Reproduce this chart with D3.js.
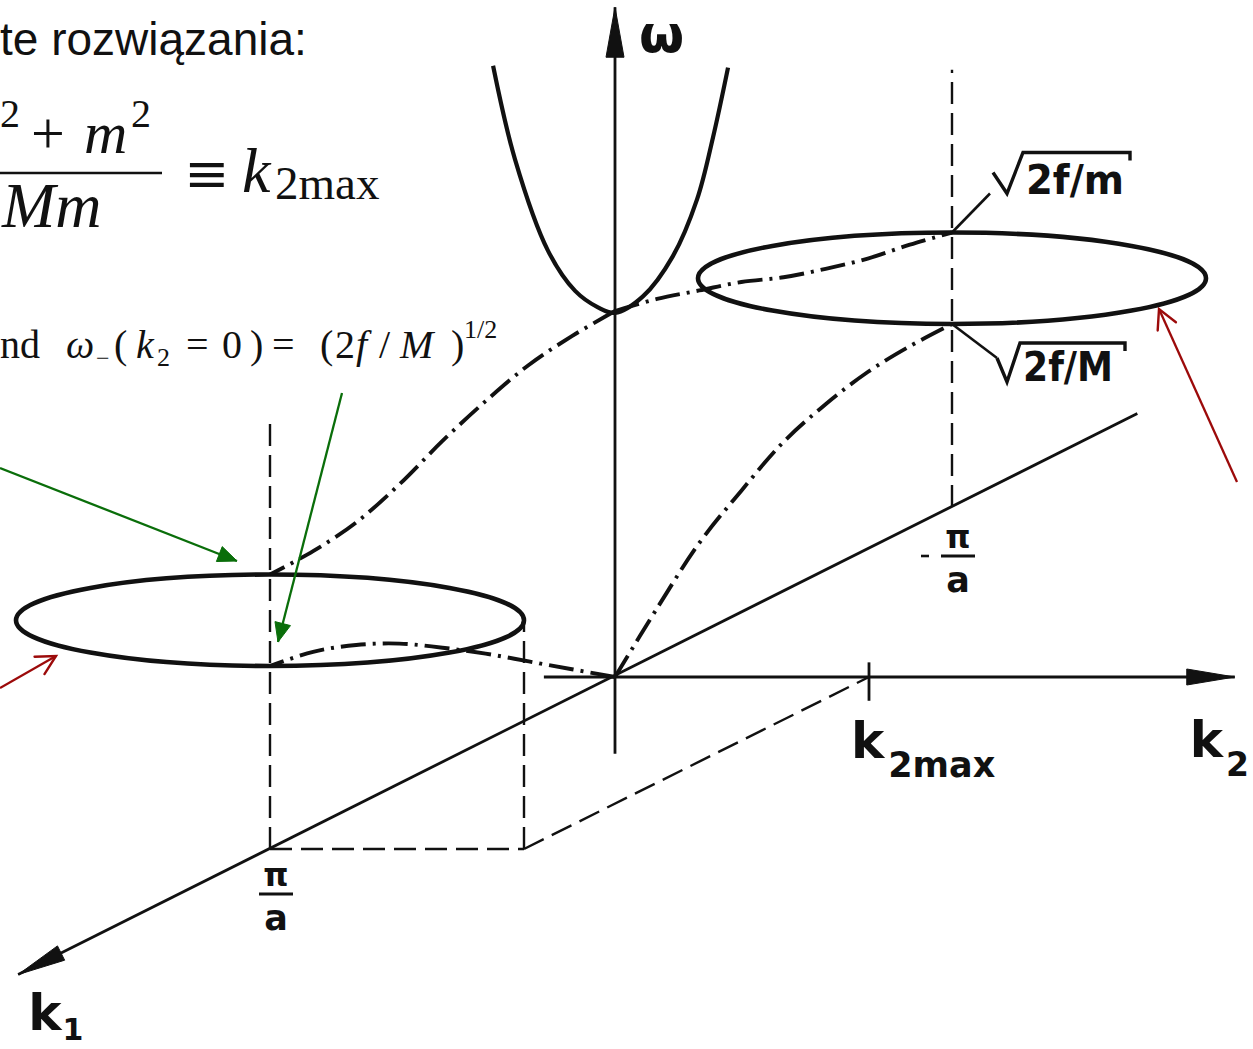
<!DOCTYPE html>
<html>
<head>
<meta charset="utf-8">
<script src="https://cdn.jsdelivr.net/npm/d3@7"></script>
<style>
  html, body { margin: 0; padding: 0; background: #fff; overflow: hidden; }
  svg { display: block; }
</style>
</head>
<body>
<svg id="fig" width="1253" height="1049"></svg>
<script>
// ---------------- data ----------------
// Wave vectors: k1 in units of pi/a, k2 in units of k2max; frequency in units of sqrt(2f/M).
const k1Grid        = [0, 0.125, 0.25, 0.375, 0.5, 0.625, 0.75, 0.875, 1];
// branches along k1 (k2 = 0), k1 >= 0
const opticalPos    = [2.00, 1.98, 1.94, 1.86, 1.76, 1.64, 1.55, 1.51, 1.50];
const acousticPos   = [0.00, 0.16, 0.32, 0.48, 0.63, 0.77, 0.88, 0.96, 1.00];
// branches along k1 (k2 = 0), k1 <= 0 (same |k1| grid)
const opticalNeg    = [2.00, 1.95, 1.88, 1.81, 1.72, 1.65, 1.59, 1.55, 1.50];
const acousticNeg   = [0.00, 0.26, 0.50, 0.67, 0.82, 0.91, 0.97, 0.995, 1.00];
// optical branch along k2 at k1 = 0
const parabolaK2    = [-0.48, -0.394, -0.264, -0.157, -0.067, 0, 0.11, 0.228, 0.323, 0.386, 0.445];
const parabolaW     = [3.34, 2.83, 2.33, 2.11, 2.02, 1.99, 2.08, 2.30, 2.61, 2.95, 3.33];
// zone-boundary frequencies and extents
const omegaM        = 1.0;   // sqrt(2f/M)
const omegaSmallM   = 1.5;   // sqrt(2f/m)
const k2Max         = 1.0;
const zoneEdges     = [1, -1];          // k1 = +pi/a, -pi/a
const guideTops     = [2.36, 2.39];     // top of the vertical guides at +pi/a, -pi/a
// axis extents
const k2AxisRange   = [-0.28, 2.44];
const wAxisRange    = [-0.42, 3.66];
const k1AxisRange   = [-1.55, 1.73];
// labels
const axisLabels    = { w: "ω", k1: ["k", "1"], k2: ["k", "2"], k2max: ["k", "2max"] };
const edgeLabels    = { pos: "π/a", neg: "−π/a" };
const freqLabels    = { top: "2f/m", bottom: "2f/M" };
const headline      = "te rozwiązania:";

// ---------------- projection ----------------
const svg = d3.select("#fig");
const origin = { x: 615, y: 677 };
const k2Px = d3.scaleLinear().domain([0, 1]).range([0, 254]);
const k1Px = d3.scaleLinear().domain([-1, 0, 1]).range([337, 0, -345]);
const k1Py = d3.scaleLinear().domain([-1, 0, 1]).range([-170, 0, 172]);
const wPy  = d3.scaleLinear().domain([0, 1]).range([0, -183]);
const proj = (k1, k2, w) => [origin.x + k1Px(k1) + k2Px(k2), origin.y + k1Py(k1) + wPy(w)];

const line3 = (curve) => d3.line()
  .x(d => proj(d[0], d[1], d[2])[0])
  .y(d => proj(d[0], d[1], d[2])[1])
  .curve(curve || d3.curveLinear);

const INK = "#111";
const DASH = "22 9";
const DASHDOT = "25 7 3 7";

const fig = svg.append("g").attr("class", "figure");

// arrowhead helper: filled triangle or open chevron at `tip`
function arrowHead(g, from, tip, len, hw, color, filled) {
  const dx = tip[0] - from[0], dy = tip[1] - from[1];
  const L = Math.hypot(dx, dy), ux = dx / L, uy = dy / L;
  const bx = tip[0] - ux * len, by = tip[1] - uy * len;
  const p1 = [bx - uy * hw, by + ux * hw], p2 = [bx + uy * hw, by - ux * hw];
  if (filled) {
    g.append("path").attr("d", `M${tip}L${p1}L${p2}Z`).attr("fill", color).attr("stroke", color).attr("stroke-width", 1);
  } else {
    g.append("path").attr("d", `M${p1}L${tip}L${p2}`).attr("fill", "none")
      .attr("stroke", color).attr("stroke-width", 2.4).attr("stroke-linecap", "round");
  }
}

// ---------------- guide lines (dashed) ----------------
const guides = [
  [[1, 0, 0], [1, 0, guideTops[0]]],
  [[-1, 0, 0], [-1, 0, guideTops[1]]],
  [[1, k2Max, 0], [1, k2Max, (omegaM + omegaSmallM) / 2]],
  [[1, 0, 0], [1, k2Max, 0]],
  [[1, k2Max, 0], [0, k2Max, 0]]
];
fig.selectAll("path.guide").data(guides).join("path")
  .attr("class", "guide")
  .attr("d", d => line3()(d))
  .attr("fill", "none").attr("stroke", INK).attr("stroke-width", 2.4)
  .attr("stroke-dasharray", DASH);

// ---------------- axes ----------------
const axes = [
  { name: "k2", a: [0, k2AxisRange[0], 0], b: [0, k2AxisRange[1], 0], len: 48, hw: 8 },
  { name: "w",  a: [0, 0, wAxisRange[0]],  b: [0, 0, wAxisRange[1]],  len: 50, hw: 9 },
  { name: "k1", a: [k1AxisRange[0], 0, 0], b: [k1AxisRange[1], 0, 0], len: 48, hw: 8 }
];
axes.forEach(ax => {
  const A = proj(...ax.a), B = proj(...ax.b);
  fig.append("line").attr("x1", A[0]).attr("y1", A[1]).attr("x2", B[0]).attr("y2", B[1])
    .attr("stroke", INK).attr("stroke-width", 2.8);
  arrowHead(fig, A, B, ax.len, ax.hw, INK, true);
});
// tick at k2max
{
  const t0 = proj(0, k2Max, 0.08), t1 = proj(0, k2Max, -0.13);
  fig.append("line").attr("x1", t0[0]).attr("y1", t0[1]).attr("x2", t1[0]).attr("y2", t1[1])
    .attr("stroke", INK).attr("stroke-width", 2.8);
}

// ---------------- zone-boundary ellipses ----------------
zoneEdges.forEach(k1 => {
  const c = proj(k1, 0, (omegaM + omegaSmallM) / 2);
  fig.append("ellipse")
    .attr("cx", c[0]).attr("cy", c[1])
    .attr("rx", k2Px(k2Max))
    .attr("ry", Math.abs(wPy(omegaSmallM) - wPy(omegaM)) / 2)
    .attr("fill", "none").attr("stroke", INK).attr("stroke-width", 4.6);
});

// ---------------- parabola (optical branch along k2) ----------------
fig.append("path")
  .attr("d", line3(d3.curveCatmullRom)(parabolaK2.map((k, i) => [0, k, parabolaW[i]])))
  .attr("fill", "none").attr("stroke", INK).attr("stroke-width", 4.2);

// ---------------- dash-dot branches along k1 ----------------
const branches = [
  k1Grid.map((k, i) => [k, 0, opticalPos[i]]),
  k1Grid.map((k, i) => [k, 0, acousticPos[i]]),
  k1Grid.map((k, i) => [-k, 0, opticalNeg[i]]),
  k1Grid.map((k, i) => [-k, 0, acousticNeg[i]])
];
fig.selectAll("path.branch").data(branches).join("path")
  .attr("class", "branch")
  .attr("d", d => line3(d3.curveCatmullRom)(d))
  .attr("fill", "none").attr("stroke", INK).attr("stroke-width", 3.9)
  .attr("stroke-dasharray", DASHDOT);

// ---------------- figure labels ----------------
const labFont = "'DejaVu Sans', sans-serif";
const lab = fig.append("g").attr("font-family", labFont).attr("font-weight", "bold").attr("fill", INK);

// omega
{
  const tip = proj(0, 0, wAxisRange[1]);
  lab.append("text").attr("x", tip[0] + 24).attr("y", tip[1] + 45).attr("font-size", 52).text(axisLabels.w);
}
// k2max
{
  const p = proj(0, k2Max, 0);
  const t = lab.append("text").attr("x", p[0] - 18).attr("y", p[1] + 81).attr("font-size", 50);
  t.append("tspan").text(axisLabels.k2max[0]);
  t.append("tspan").attr("font-size", 35).attr("dx", 4).attr("dy", 19).text(axisLabels.k2max[1]);
}
// k2
{
  const p = proj(0, k2AxisRange[1], 0);
  const t = lab.append("text").attr("x", p[0] - 45).attr("y", p[1] + 80).attr("font-size", 50);
  t.append("tspan").text(axisLabels.k2[0]);
  t.append("tspan").attr("font-size", 33).attr("dx", 3).attr("dy", 19).text(axisLabels.k2[1]);
}
// k1
{
  const p = proj(k1AxisRange[1], 0, 0);
  const t = lab.append("text").attr("x", p[0] + 10).attr("y", p[1] + 55).attr("font-size", 50);
  t.append("tspan").text(axisLabels.k1[0]);
  t.append("tspan").attr("font-size", 30).attr("dx", 1).attr("dy", 10).text(axisLabels.k1[1]);
}
// +pi/a and -pi/a fraction labels
function fracLabel(cx, top, minus) {
  const g = lab.append("g");
  if (minus) g.append("line").attr("x1", cx - 37).attr("x2", cx - 29).attr("y1", top + 28).attr("y2", top + 28)
    .attr("stroke", INK).attr("stroke-width", 2.6);
  g.append("text").attr("x", cx).attr("y", top + 20).attr("text-anchor", "middle").attr("font-size", 32).text("π");
  g.append("line").attr("x1", cx - 17).attr("x2", cx + 17).attr("y1", top + 28).attr("y2", top + 28)
    .attr("stroke", INK).attr("stroke-width", 3);
  g.append("text").attr("x", cx).attr("y", top + 64).attr("text-anchor", "middle").attr("font-size", 35).text("a");
  g.append("title").text(minus ? edgeLabels.neg : edgeLabels.pos);
}
{
  const p = proj(1, 0, 0);
  fracLabel(p[0] + 6, p[1] + 17, false);
  const q = proj(-1, 0, 0);
  fracLabel(q[0] + 6, q[1] + 21, true);
}
// sqrt(2f/m) and sqrt(2f/M) with leader lines
// pts: leader end, radical start, radical valley, bar start, bar end (offsets from the anchor)
function rootLabel(anchor, pts, text, textX, baseY, width) {
  const g = lab.append("g");
  const P = pts.map(p => [anchor[0] + p[0], anchor[1] + p[1]]);
  g.append("line").attr("x1", anchor[0]).attr("y1", anchor[1]).attr("x2", P[0][0]).attr("y2", P[0][1])
    .attr("stroke", INK).attr("stroke-width", 2.6);
  g.append("path")
    .attr("d", `M${P[1]}L${P[2]}L${P[3]}L${P[4]}L${P[4][0]},${P[4][1] + 8}`)
    .attr("fill", "none").attr("stroke", INK).attr("stroke-width", 3.4).attr("stroke-linejoin", "miter");
  g.append("text").attr("x", anchor[0] + textX).attr("y", anchor[1] + baseY).attr("font-size", 40)
    .attr("textLength", width).attr("lengthAdjust", "spacingAndGlyphs").text(text);
}
{
  const a = proj(-1, 0, omegaSmallM);
  rootLabel(a, [[38, -39], [41, -60], [55, -39], [71, -80], [178, -80]], freqLabels.top, 74, -39, 98);
  const b = proj(-1, 0, omegaM);
  rootLabel(b, [[45, 34], [45, 34], [55, 58], [68, 19], [173, 19]], freqLabels.bottom, 71, 57, 90);
}

// ---------------- text fragments (formulas) ----------------
const txt = svg.append("g").attr("fill", "#111");
txt.append("text").attr("x", 0).attr("y", 55)
  .attr("font-family", "'Liberation Sans', Arial, sans-serif").attr("font-size", 46).text(headline);

const serif = "'Liberation Serif', 'Times New Roman', serif";
const num = txt.append("text").attr("font-family", serif).attr("font-size", 60).attr("y", 153);
num.append("tspan").attr("x", 0).attr("y", 127).attr("font-size", 40).text("2");
num.append("tspan").attr("x", 31).attr("y", 153).text("+");
num.append("tspan").attr("x", 84).attr("font-style", "italic").text("m");
num.append("tspan").attr("x", 131).attr("y", 127).attr("font-size", 40).text("2");
txt.append("line").attr("x1", 0).attr("x2", 162).attr("y1", 173).attr("y2", 173)
  .attr("stroke", "#111").attr("stroke-width", 2.6);
txt.append("text").attr("font-family", serif).attr("font-size", 64).attr("y", 227)
  .attr("x", 2).attr("font-style", "italic").text("Mm");
const eq = txt.append("text").attr("font-family", serif).attr("y", 192);
eq.append("tspan").attr("x", 184).attr("font-family", "'DejaVu Serif', serif").attr("font-size", 54).text("≡");
eq.append("tspan").attr("x", 242).attr("font-style", "italic").attr("font-size", 64).text("k");
eq.append("tspan").attr("x", 275).attr("y", 199).attr("font-size", 47).text("2max");

const ln = txt.append("text").attr("font-family", serif).attr("font-size", 40).attr("y", 358);
ln.append("tspan").attr("x", 0).text("nd");
ln.append("tspan").attr("x", 66).attr("font-style", "italic").text("ω");
ln.append("tspan").attr("x", 96).attr("y", 366).attr("font-size", 24).text("−");
ln.append("tspan").attr("x", 114).attr("y", 358).text("(");
ln.append("tspan").attr("x", 136).attr("font-style", "italic").text("k");
ln.append("tspan").attr("x", 157).attr("y", 366).attr("font-size", 26).text("2");
ln.append("tspan").attr("x", 186).attr("y", 358).text("=");
ln.append("tspan").attr("x", 222).text("0");
ln.append("tspan").attr("x", 250).text(")");
ln.append("tspan").attr("x", 272).text("=");
ln.append("tspan").attr("x", 320).text("(");
ln.append("tspan").attr("x", 335).text("2");
ln.append("tspan").attr("x", 356).attr("font-style", "italic").text("f");
ln.append("tspan").attr("x", 379).text("/");
ln.append("tspan").attr("x", 400).attr("font-style", "italic").text("M");
ln.append("tspan").attr("x", 451).text(")");
ln.append("tspan").attr("x", 464).attr("y", 338).attr("font-size", 26).text("1/2");

// ---------------- annotation arrows ----------------
const notes = svg.append("g");
const green = "#0a6e0a", red = "#9c0a0a";
const noteArrows = [
  { from: [0, 468], to: [237, 561], color: green, filled: true },
  { from: [342, 393], to: [278, 642], color: green, filled: true },
  { from: [0, 688], to: [56, 656], color: red, filled: false },
  { from: [1237, 482], to: [1159, 309], color: red, filled: false }
];
noteArrows.forEach(a => {
  notes.append("line").attr("x1", a.from[0]).attr("y1", a.from[1]).attr("x2", a.to[0]).attr("y2", a.to[1])
    .attr("stroke", a.color).attr("stroke-width", 2.3);
  if (a.filled) arrowHead(notes, a.from, a.to, 19, 8, a.color, true);
  else arrowHead(notes, a.from, a.to, 19, 10, a.color, false);
});
</script>
</body>
</html>
